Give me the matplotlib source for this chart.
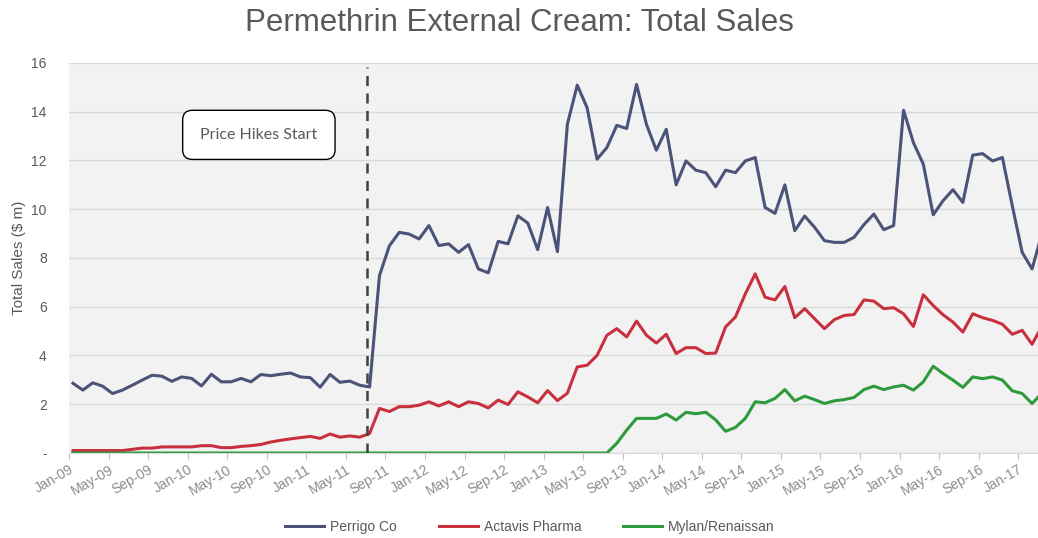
import matplotlib.pyplot as plt
import numpy as np

plt.rcParams['font.family'] = ['Liberation Sans', 'DejaVu Sans']

# monthly sales, Jan-09 .. Mar-17 ($ m)
perrigo = [2.86, 2.58, 2.88, 2.74, 2.44, 2.58, 2.78, 2.99, 3.19, 3.15,
           2.94, 3.12, 3.06, 2.75, 3.23, 2.92, 2.92, 3.06, 2.92, 3.22,
           3.17, 3.23, 3.28, 3.12, 3.09, 2.70, 3.22, 2.90, 2.95, 2.78,
           2.71, 7.28, 8.50, 9.05, 8.98, 8.78, 9.33, 8.51, 8.58, 8.23,
           8.55, 7.55, 7.39, 8.68, 8.58, 9.73, 9.43, 8.34, 10.07, 8.26,
           13.48, 15.09, 14.16, 12.05, 12.53, 13.44, 13.31, 15.12, 13.48, 12.42,
           13.28, 11.00, 11.98, 11.60, 11.50, 10.92, 11.60, 11.50, 11.98, 12.12,
           10.07, 9.83, 11.00, 9.12, 9.72, 9.26, 8.71, 8.64, 8.64, 8.85,
           9.37, 9.80, 9.16, 9.33, 14.06, 12.73, 11.85, 9.77, 10.35, 10.80,
           10.28, 12.22, 12.28, 11.98, 12.12, 10.14, 8.23, 7.55, 9.00]
actavis = [0.10, 0.10, 0.10, 0.10, 0.10, 0.10, 0.15, 0.20, 0.20, 0.25,
           0.25, 0.25, 0.25, 0.30, 0.30, 0.22, 0.22, 0.27, 0.30, 0.35,
           0.45, 0.52, 0.58, 0.63, 0.68, 0.60, 0.78, 0.65, 0.70, 0.65,
           0.80, 1.83, 1.70, 1.90, 1.90, 1.96, 2.10, 1.93, 2.10, 1.90,
           2.10, 2.03, 1.85, 2.17, 1.99, 2.51, 2.30, 2.06, 2.56, 2.15,
           2.45, 3.53, 3.60, 4.00, 4.83, 5.10, 4.76, 5.41, 4.83, 4.51,
           4.87, 4.08, 4.32, 4.32, 4.08, 4.10, 5.17, 5.58, 6.53, 7.35,
           6.39, 6.28, 6.83, 5.55, 5.92, 5.51, 5.10, 5.47, 5.64, 5.68,
           6.28, 6.23, 5.92, 5.96, 5.71, 5.19, 6.49, 6.05, 5.67, 5.37,
           4.96, 5.71, 5.55, 5.44, 5.28, 4.87, 5.03, 4.46, 5.20]
mylan = [0.00, 0.00, 0.00, 0.00, 0.00, 0.00, 0.00, 0.00, 0.00, 0.00,
         0.00, 0.00, 0.00, 0.00, 0.00, 0.00, 0.00, 0.00, 0.00, 0.00,
         0.00, 0.00, 0.00, 0.00, 0.00, 0.00, 0.00, 0.00, 0.00, 0.00,
         0.00, 0.00, 0.00, 0.00, 0.00, 0.00, 0.00, 0.00, 0.00, 0.00,
         0.00, 0.00, 0.00, 0.00, 0.00, 0.00, 0.00, 0.00, 0.00, 0.00,
         0.00, 0.00, 0.00, 0.00, 0.00, 0.40, 0.94, 1.42, 1.42, 1.42,
         1.60, 1.35, 1.67, 1.61, 1.67, 1.36, 0.89, 1.05, 1.42, 2.10,
         2.06, 2.24, 2.60, 2.14, 2.33, 2.19, 2.03, 2.14, 2.19, 2.28,
         2.60, 2.74, 2.60, 2.71, 2.78, 2.58, 2.92, 3.56, 3.26, 2.99,
         2.69, 3.12, 3.05, 3.12, 2.99, 2.55, 2.44, 2.03, 2.45]

tick_labels = ['Jan-09', 'May-09', 'Sep-09', 'Jan-10', 'May-10', 'Sep-10',
               'Jan-11', 'May-11', 'Sep-11', 'Jan-12', 'May-12', 'Sep-12',
               'Jan-13', 'May-13', 'Sep-13', 'Jan-14', 'May-14', 'Sep-14',
               'Jan-15', 'May-15', 'Sep-15', 'Jan-16', 'May-16', 'Sep-16',
               'Jan-17']
hike_month = 30.1  # Jul-11

grey = '#595959'
fig = plt.figure(figsize=(10.38, 5.38), dpi=100)
ax = fig.add_axes([0.0665, 0.158, 0.9335, 0.725])
ax.set_facecolor('#f2f2f2')

x = np.arange(len(perrigo)) + 0.4
ax.plot(x, perrigo, color='#4b5379', lw=2.2, label='Perrigo Co')
ax.plot(x, actavis, color='#c9303e', lw=2.2, label='Actavis Pharma')
ax.plot(x, mylan, color='#2f9a3b', lw=2.2, label='Mylan/Renaissan')

ax.axvline(hike_month, ymax=0.99, color='#404040', lw=1.8, ls=(0, (4, 3)))
ax.text(19.2, 13.05, 'Price Hikes Start', ha='center', va='center',
        fontsize=11.5, color=grey, family=['Lato', 'DejaVu Sans'],
        bbox=dict(boxstyle='round,pad=1.1,rounding_size=0.6',
                  fc='white', ec='black', lw=1))

ax.set_xlim(0, 98.0)
ax.set_ylim(0, 16)
ax.set_yticks(range(0, 17, 2))
ax.set_yticklabels(['-'] + [str(v) for v in range(2, 17, 2)])
ax.set_xticks(range(0, 97, 4))
ax.set_xticklabels(tick_labels, rotation=30, ha='right', rotation_mode='anchor')
ax.tick_params(axis='y', length=0, pad=16, labelsize=10, labelcolor=grey)
ax.tick_params(axis='x', length=4, color='#bfbfbf', pad=3, labelsize=10,
               labelcolor='#8c8c8c')
ax.yaxis.grid(True, color='#d9d9d9', lw=1)
ax.set_axisbelow(True)
for side in ['top', 'right', 'left']:
    ax.spines[side].set_visible(False)
ax.spines['bottom'].set_color('#d9d9d9')

fig.text(0.5, 0.957, 'Permethrin External Cream: Total Sales', ha='center',
         va='center', fontsize=22.5, color=grey)
fig.text(19 / 1038, 1 - 258 / 538, 'Total Sales ($ m)', rotation=90,
         ha='center', va='center', fontsize=11, color=grey)
fig.legend(loc='center', bbox_to_anchor=(530 / 1038, 1 - 527 / 538), ncol=3,
           frameon=False, fontsize=10, handlelength=2.8, handletextpad=0.45,
           columnspacing=3, labelcolor=grey)

plt.savefig('out.png', dpi=100)
